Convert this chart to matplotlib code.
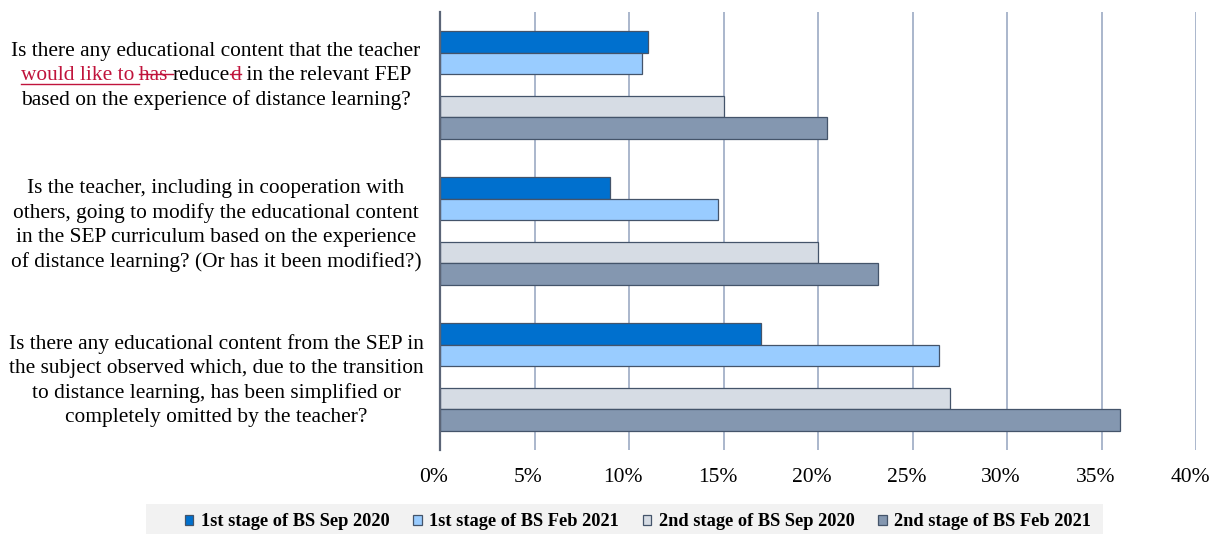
import re
import numpy as np
import matplotlib
matplotlib.use("Agg")
import matplotlib.pyplot as plt
from matplotlib.patches import Rectangle
from matplotlib.lines import Line2D
from matplotlib.transforms import IdentityTransform, ScaledTranslation

# questions, top to bottom; <u>..</u> = red underlined insert, <s>..</s> = red struck-out text
questions = [
    "Is there any educational content that the teacher\n"
    "<u>would like to </u><s>has </s>reduce<s>d</s> in the relevant FEP\n"
    "based on the experience of distance learning?",
    "Is the teacher, including in cooperation with\n"
    "others, going to modify the educational content\n"
    "in the SEP curriculum based on the experience\n"
    "of distance learning? (Or has it been modified?)",
    "Is there any educational content from the SEP in\n"
    "the subject observed which, due to the transition\n"
    "to distance learning, has been simplified or\n"
    "completely omitted by the teacher?",
]

series_names = ["1st stage of BS Sep 2020", "1st stage of BS Feb 2021",
                "2nd stage of BS Sep 2020", "2nd stage of BS Feb 2021"]
stage1_sep2020 = [11.0, 9.0, 17.0]
stage1_feb2021 = [10.7, 14.7, 26.4]
stage2_sep2020 = [15.0, 20.0, 27.0]
stage2_feb2021 = [20.5, 23.2, 36.0]
xticks = [0, 5, 10, 15, 20, 25, 30, 35, 40]

colors = ["#0070CE", "#99CCFF", "#D6DCE4", "#8497B0"]
edge = "#44546A"
red = "#C0143C"
serif = "Liberation Serif"

W, H = 1216, 534
fig = plt.figure(figsize=(W / 100, H / 100), dpi=100)
ax = fig.add_axes([440 / W, 1 - 450 / H, 756 / W, 438 / H])

bh = 0.148
slots = [-2, -1, 1, 2]  # empty slot in the middle of each group
y = np.arange(len(questions))
handles = []
for k, vals in enumerate([stage1_sep2020, stage1_feb2021, stage2_sep2020, stage2_feb2021]):
    b = ax.barh(y + slots[k] * bh, vals, height=bh, color=colors[k],
                edgecolor=edge, linewidth=0.9, label=series_names[k], zorder=3)
    handles.append(b)

ax.set_xlim(0, 40)
ax.set_ylim(2.5, -0.5)
ax.set_xticks(xticks)
ax.set_xticklabels([f"{t}%" for t in xticks], fontfamily=serif, fontsize=15.5)
ax.tick_params(axis="x", length=0, pad=13)
ax.set_yticks([])
ax.xaxis.grid(True, color="#93A3BE", linewidth=1.1)
ax.set_axisbelow(True)
for s in ["top", "right", "bottom"]:
    ax.spines[s].set_visible(False)
ax.spines["left"].set_color("#5B6577")
ax.spines["left"].set_linewidth(1.6)
ax.spines["left"].set_zorder(4)
for lab in ax.get_xticklabels():
    lab.set_transform(lab.get_transform() + ScaledTranslation(-6 / 100, 0, fig.dpi_scale_trans))

# legend on a light grey strip
fig.add_artist(Rectangle((146 / W, 0), (1103 - 146) / W, 30 / H, transform=fig.transFigure,
                         facecolor="#F2F2F2", edgecolor="none", zorder=0))
fig.legend(handles=handles, loc="center", bbox_to_anchor=(638 / W, 1 - 522 / H), ncol=4,
           frameon=False, prop={"family": serif, "weight": "bold", "size": 13.2},
           handlelength=0.45, handleheight=0.45, handletextpad=0.42, columnspacing=1.3)

# question labels, drawn piece by piece so the edits can be coloured
fig.canvas.draw()
rend = fig.canvas.get_renderer()
font = dict(family=serif, size=15.4)
tr = IdentityTransform()


def width(s):
    t = fig.text(0, 0, s + "|", **font)
    w = t.get_window_extent(rend).width
    t.set_text("|")
    w -= t.get_window_extent(rend).width
    t.remove()
    return w


label_x = 216
line_step = 24.6
label_dy = [-4.5, -1.0, 8.5]
for i, q in enumerate(questions):
    lines = q.split("\n")
    yc = ax.transData.transform((0, i))[1] - label_dy[i]
    for j, line in enumerate(lines):
        base = yc + ((len(lines) - 1) / 2 - j) * line_step
        pieces = re.findall(r"<(u|s)>(.*?)</\1>|([^<]+)", line)
        plain = "".join(p[1] or p[2] for p in pieces)
        left = label_x - width(plain) / 2
        prefix = ""
        for tag, marked, normal in pieces:
            txt = marked or normal
            x0 = left + width(prefix)
            x1 = left + width(prefix + txt)
            c = red if tag else "black"
            fig.text(x0, base, txt, color=c, va="baseline", ha="left", transform=tr, **font)
            if tag == "u":
                fig.add_artist(Line2D([x0, x1], [base - 3, base - 3], color=red, lw=1, transform=tr))
            elif tag == "s":
                fig.add_artist(Line2D([x0, x1], [base + 6.5, base + 6.5], color=red, lw=1, transform=tr))
            prefix += txt

fig.savefig("out.png", dpi=100)
